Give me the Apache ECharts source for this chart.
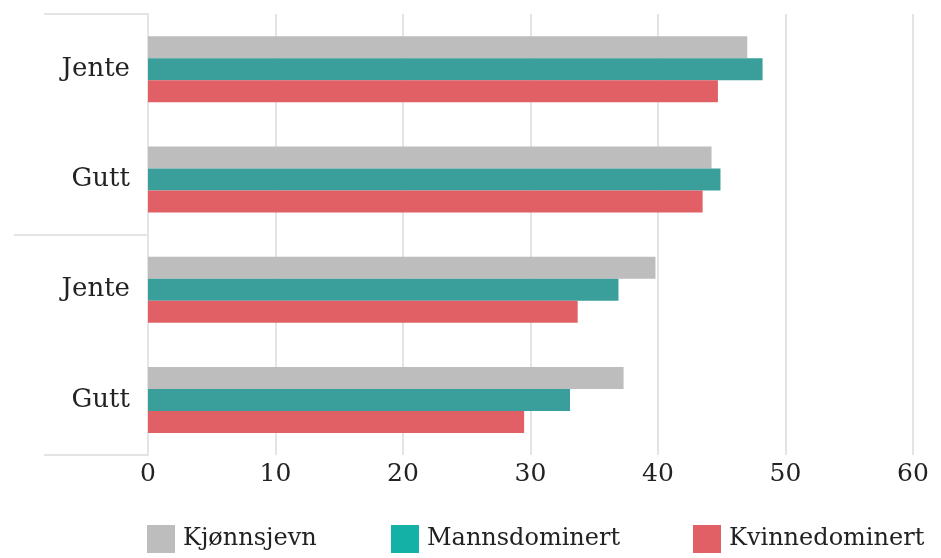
<!DOCTYPE html>
<html lang="no">
<head>
    <meta charset="UTF-8">
    <title>Kjønnsjevn / Mannsdominert / Kvinnedominert</title>
    <script src="https://cdn.jsdelivr.net/npm/echarts@6/dist/echarts.min.js"></script>
    <style>
        html, body { margin: 0; padding: 0; background: #fff; }
        #chart { width: 941px; height: 558px; }
    </style>
</head>
<body>
<div id="chart"></div>
<script>
    // categories, top to bottom
    var categories = ['Jente', 'Gutt', 'Jente', 'Gutt'];
    var seriesNames = ['Kjønnsjevn', 'Mannsdominert', 'Kvinnedominert'];

    // values
    var kjonnsjevn = [47.0, 44.2, 39.8, 37.3];
    var mannsdominert = [48.2, 44.9, 36.9, 33.1];
    var kvinnedominert = [44.7, 43.5, 33.7, 29.5];

    var xTicks = [0, 10, 20, 30, 40, 50, 60];

    var barColors = ['#bdbdbd', '#3a9f9b', '#e06066'];
    var legendColors = ['#bdbdbd', '#14b1a6', '#e06066'];
    var legendLeft = [147, 391, 693];

    var font = '"DejaVu Serif", "Liberation Serif", serif';
    var textColor = '#222';
    var chart = echarts.init(document.getElementById('chart'));

    // category keys kept unique, labels shown from the categories array
    var keys = categories.map(function (c, i) { return i + ''; });

    function bar(name, values, color) {
        return {
            name: name,
            type: 'bar',
            data: values,
            barWidth: 22,
            barGap: '0%',
            itemStyle: {color: color},
            emphasis: {disabled: true}
        };
    }

    // one legend box per item so each sits where the original has it
    var legends = seriesNames.map(function (n, i) {
        return {
            left: legendLeft[i],
            top: 525,
            padding: 0,
            itemWidth: 28,
            itemHeight: 28,
            icon: 'rect',
            selectedMode: false,
            textStyle: {fontFamily: font, fontSize: 24, color: textColor, padding: [0, 0, 0, 3]},
            data: [{name: n, itemStyle: {color: legendColors[i]}}]
        };
    });

    chart.setOption({
        animation: false,
        textStyle: {fontFamily: font},
        grid: {left: 148, right: 28, top: 14, bottom: 103},
        legend: legends,
        xAxis: {
            type: 'value',
            min: xTicks[0],
            max: xTicks[xTicks.length - 1],
            interval: 10,
            axisLine: {show: false},
            axisTick: {show: false},
            splitLine: {lineStyle: {color: '#e4e4e4', width: 2}},
            axisLabel: {fontFamily: font, fontSize: 25, color: textColor, margin: 7}
        },
        yAxis: {
            type: 'category',
            inverse: true,
            data: keys,
            axisLine: {lineStyle: {color: '#e4e4e4', width: 2}},
            axisTick: {
                show: true,
                interval: function (i) { return i % 2 === 0; },
                length: 104,
                lineStyle: {color: '#e4e4e4', width: 2}
            },
            axisLabel: {
                interval: 0,
                fontFamily: font,
                fontSize: 26,
                color: textColor,
                margin: 18,
                formatter: function (v) { return categories[+v]; }
            }
        },
        graphic: [{
            type: 'line',
            shape: {x1: 14, y1: 235, x2: 46, y2: 235},
            style: {stroke: '#e4e4e4', lineWidth: 2}
        }],
        series: [
            bar(seriesNames[0], kjonnsjevn, barColors[0]),
            bar(seriesNames[1], mannsdominert, barColors[1]),
            bar(seriesNames[2], kvinnedominert, barColors[2])
        ]
    });
</script>
</body>
</html>
